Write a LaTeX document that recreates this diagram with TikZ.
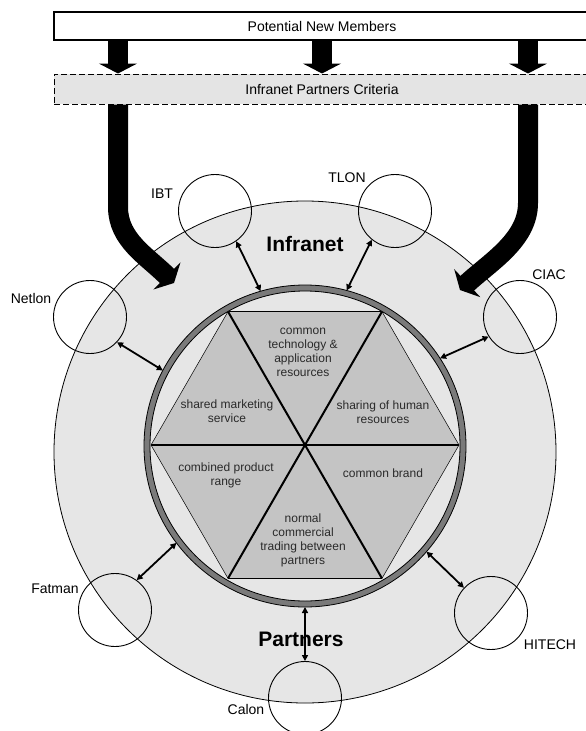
\documentclass[tikz,border=0pt]{standalone}
\usepackage{fontspec}
\setmainfont{Liberation Sans}
\usetikzlibrary{arrows.meta}
\definecolor{outerfill}{HTML}{E6E6E6}
\definecolor{critfill}{HTML}{E4E4E4}
\definecolor{hexfill}{HTML}{C4C4C4}
\definecolor{ringgray}{HTML}{7A7A7A}
\definecolor{hextext}{HTML}{2A2A2A}
\begin{document}
\begin{tikzpicture}[x=1pt,y=-1pt,
  topbox/.style={draw, line width=1.3pt, fill=white, minimum width=536pt, minimum height=28pt, inner sep=0pt, font=\fontsize{14}{16}\selectfont},
  critbox/.style={draw, dash pattern=on 6pt off 3pt, line width=1pt, fill=critfill, minimum width=536pt, minimum height=30pt, inner sep=0pt, font=\fontsize{14}{16}\selectfont},
  partner/.style={circle, draw, line width=0.9pt, minimum size=73pt, inner sep=0pt},
  plabel/.style={font=\fontsize{14}{16}\selectfont, inner sep=0pt},
  hexlabel/.style={align=center, font=\fontsize{12}{14}\selectfont, text=hextext, inner sep=0pt},
  titletext/.style={font=\fontsize{21}{24}\selectfont\bfseries, inner sep=0pt},
  link/.style={line width=1.8pt, {Triangle[length=6pt,width=6pt]}-{Triangle[length=6pt,width=6pt]}},
  feed/.style={line width=20pt, -{Triangle[length=10pt,width=38pt]}},
]
\useasboundingbox (0,0) rectangle (586,731);
\clip (0,0) rectangle (586,731);

% outer circle
\node[circle, draw, line width=0.8pt, fill=outerfill, minimum size=502pt, inner sep=0pt] (infranet) at (305,452) {};

% hexagon
\coordinate (R) at (459,445);
\coordinate (TR) at (382,311.6);
\coordinate (TL) at (228,311.6);
\coordinate (L) at (151,445);
\coordinate (BL) at (228,578.4);
\coordinate (BR) at (382,578.4);
\fill[hexfill] (R) -- (TR) -- (TL) -- (L) -- (BL) -- (BR) -- cycle;
\draw[line width=0.5pt] (TL) -- (L) -- (BL) (TR) -- (R) -- (BR);
\draw[line width=1.1pt] (TL) -- (TR) (BL) -- (BR);
\draw[line width=1.3pt] (L) -- (R);
\draw[line width=2pt] (TL) -- (BR) (TR) -- (BL);

% ring
\node[circle, minimum size=322pt, inner sep=0pt, outer sep=0pt] (ring) at (305,446) {};
\draw[ringgray, line width=6pt] (ring.center) circle[radius=158pt];
\draw[line width=0.8pt] (ring.center) circle[radius=161pt] (ring.center) circle[radius=155pt];

% hexagon texts
\node[hexlabel] (h1) at (303,352) {common\\technology \&\\application\\resources};
\node[hexlabel] (h2) at (227,411) {shared marketing\\service};
\node[hexlabel] (h3) at (383,412) {sharing of human\\resources};
\node[hexlabel] (h4) at (226,475) {combined product\\range};
\node[hexlabel] (h5) at (383,473) {common brand};
\node[hexlabel] (h6) at (303,540) {normal\\commercial\\trading between\\partners};

% titles
\node[titletext] (inft) at (305,244) {Infranet};
\node[titletext] (part) at (301,639) {Partners};

% partners
\node[partner] (ibt) at (215,211) {};
\node[partner] (tlon) at (395,211) {};
\node[partner] (netlon) at (90,317) {};
\node[partner] (ciac) at (520,317) {};
\node[partner] (fatman) at (115,610) {};
\node[partner] (hitech) at (491,613) {};
\node[partner] (calon) at (305,698) {};

\node[plabel] (ibtl) at (162,194) {IBT};
\node[plabel] (tlonl) at (347,178) {TLON};
\node[plabel] (netlonl) at (31,298) {Netlon};
\node[plabel] (ciacl) at (549,275) {CIAC};
\node[plabel] (fatmanl) at (55,589) {Fatman};
\node[plabel] (hitechl) at (550,645) {HITECH};
\node[plabel] (calonl) at (246,709) {Calon};

% links
\draw[link] (ibt.305) -- (ring.106);
\draw[link] (tlon.231) -- (ring.75);
\draw[link] (netlon.317) -- (ring.152);
\draw[link] (ciac.212) -- (ring.33);
\draw[link] (fatman.54) -- (ring.217);
\draw[link] (hitech.137) -- (ring.319);
\draw[link] (calon.90) -- (ring.270);

% boxes
\node[topbox] (pnm) at (322,26) {Potential New Members};
\node[critbox] (ipc) at (322,89) {Infranet Partners Criteria};

\coordinate (cA) at (118,0);
\coordinate (cB) at (322,0);
\coordinate (cC) at (528,0);
\draw[feed] (pnm.south -| cA) -- (ipc.north -| cA);
\draw[feed] (pnm.south -| cB) -- (ipc.north -| cB);
\draw[feed] (pnm.south -| cC) -- (ipc.north -| cC);

\draw[feed] (ipc.south -| cA) -- (118,207) .. controls (118,240) and (147,256) .. (174,283);
\draw[feed] (ipc.south -| cC) -- (528,203) .. controls (528,240) and (490,262) .. (460,290);
\end{tikzpicture}
\end{document}
